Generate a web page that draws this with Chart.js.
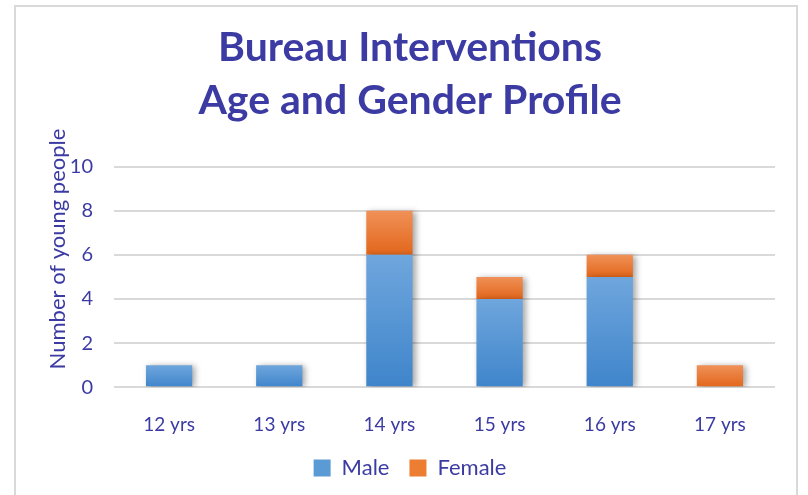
<!DOCTYPE html>
<html>
<head>
<meta charset="utf-8">
<script src="https://cdn.jsdelivr.net/npm/chart.js@4/dist/chart.umd.min.js"></script>
<style>
  html, body { margin: 0; padding: 0; background: #fff; }
  #wrap { position: relative; width: 808px; height: 495px; }
  #frame { position: absolute; left: 14px; top: 5px; width: 784px; height: 500px; border: 2px solid #d9d9d9; box-sizing: border-box; }
  canvas { position: absolute; left: 0; top: 0; }
</style>
</head>
<body>
<div id="wrap">
  <div id="frame"></div>
  <canvas id="chart" width="808" height="495"></canvas>
</div>
<script>
// Chart data
const ageGroups = ['12 yrs', '13 yrs', '14 yrs', '15 yrs', '16 yrs', '17 yrs'];
const maleCounts = [1, 1, 6, 4, 5, 0];
const femaleCounts = [0, 0, 2, 1, 1, 1];
const yTicks = [0, 2, 4, 6, 8, 10];

const textColor = '#3b3ba3';
const fontFamily = 'Lato, "Open Sans", sans-serif';

// vertical gradient for one bar segment, from its own top to bottom
function segmentGradient(context, top, bottom, colorTop, colorBottom) {
    const chart = context.chart;
    if (!chart.chartArea) return colorBottom;
    const y = chart.scales.y;
    const i = context.dataIndex;
    const yTop = y.getPixelForValue(top[i]);
    const yBottom = y.getPixelForValue(bottom[i]);
    if (!isFinite(yTop) || !isFinite(yBottom) || yTop === yBottom) return colorBottom;
    const g = chart.ctx.createLinearGradient(0, yTop, 0, yBottom);
    g.addColorStop(0, colorTop);
    g.addColorStop(1, colorBottom);
    return g;
}

const stackTop = maleCounts.map((m, i) => m + femaleCounts[i]);
const zeros = maleCounts.map(() => 0);

// bar shadows like the office chart
const shadowPlugin = {
    id: 'barShadow',
    beforeDatasetsDraw(chart) {
        const ctx = chart.ctx;
        ctx.save();
        ctx.shadowColor = 'rgba(0, 0, 0, 0.35)';
        ctx.shadowBlur = 6;
        ctx.shadowOffsetX = 3;
        ctx.shadowOffsetY = 1;
    },
    afterDatasetsDraw(chart) {
        chart.ctx.restore();
    }
};

// y axis title, centred on the chart rather than the plot area
const yTitlePlugin = {
    id: 'yTitle',
    afterDraw(chart) {
        const ctx = chart.ctx;
        ctx.save();
        ctx.translate(58, 249);
        ctx.rotate(-Math.PI / 2);
        ctx.font = '22px ' + fontFamily;
        ctx.fillStyle = textColor;
        ctx.textAlign = 'center';
        ctx.textBaseline = 'middle';
        ctx.fillText('Number of young people', 0, 0);
        ctx.restore();
    }
};

new Chart(document.getElementById('chart'), {
    type: 'bar',
    data: {
        labels: ageGroups,
        datasets: [
            {
                label: 'Male',
                data: maleCounts,
                backgroundColor: ctx => segmentGradient(ctx, maleCounts, zeros, '#6fa6dd', '#3f85cb'),
                categoryPercentage: 1,
                barPercentage: 0.42
            },
            {
                label: 'Female',
                data: femaleCounts,
                backgroundColor: ctx => segmentGradient(ctx, stackTop, maleCounts, '#f09158', '#e2661b'),
                categoryPercentage: 1,
                barPercentage: 0.42
            }
        ]
    },
    options: {
        responsive: false,
        animation: false,
        layout: {
            // left padding keeps title and legend centred where the original has them
            padding: { left: 45, right: 33, top: 0, bottom: 6 }
        },
        plugins: {
            title: {
                display: true,
                text: ['Bureau Interventions', 'Age and Gender Profile'],
                color: textColor,
                font: { family: fontFamily, size: 41, weight: 'bold', lineHeight: 1.3 },
                padding: { top: 21, bottom: 39 }
            },
            legend: {
                position: 'bottom',
                labels: {
                    color: textColor,
                    font: { family: fontFamily, size: 22 },
                    boxWidth: 17,
                    boxHeight: 17,
                    padding: 20,
                    generateLabels: () => [
                        { text: 'Male', fillStyle: '#5b9bd5', strokeStyle: '#5b9bd5', lineWidth: 0, fontColor: textColor, datasetIndex: 0 },
                        { text: 'Female', fillStyle: '#ed7d31', strokeStyle: '#ed7d31', lineWidth: 0, fontColor: textColor, datasetIndex: 1 }
                    ]
                }
            },
            tooltip: { enabled: false }
        },
        scales: {
            x: {
                stacked: true,
                afterFit: scale => { scale.height -= 17; },
                grid: { display: false },
                border: { display: false },
                ticks: {
                    color: textColor,
                    font: { family: fontFamily, size: 19 },
                    padding: 18
                }
            },
            y: {
                stacked: true,
                min: 0,
                max: 10,
                afterFit: scale => { scale.width = 69; },
                afterBuildTicks: scale => { scale.ticks = yTicks.map(v => ({ value: v })); },
                grid: { color: '#d9d9d9', lineWidth: 2, drawTicks: false },
                border: { display: false },
                ticks: {
                    color: textColor,
                    font: { family: fontFamily, size: 20 },
                    padding: 21
                }
            }
        }
    },
    plugins: [shadowPlugin, yTitlePlugin]
});
</script>
</body>
</html>
